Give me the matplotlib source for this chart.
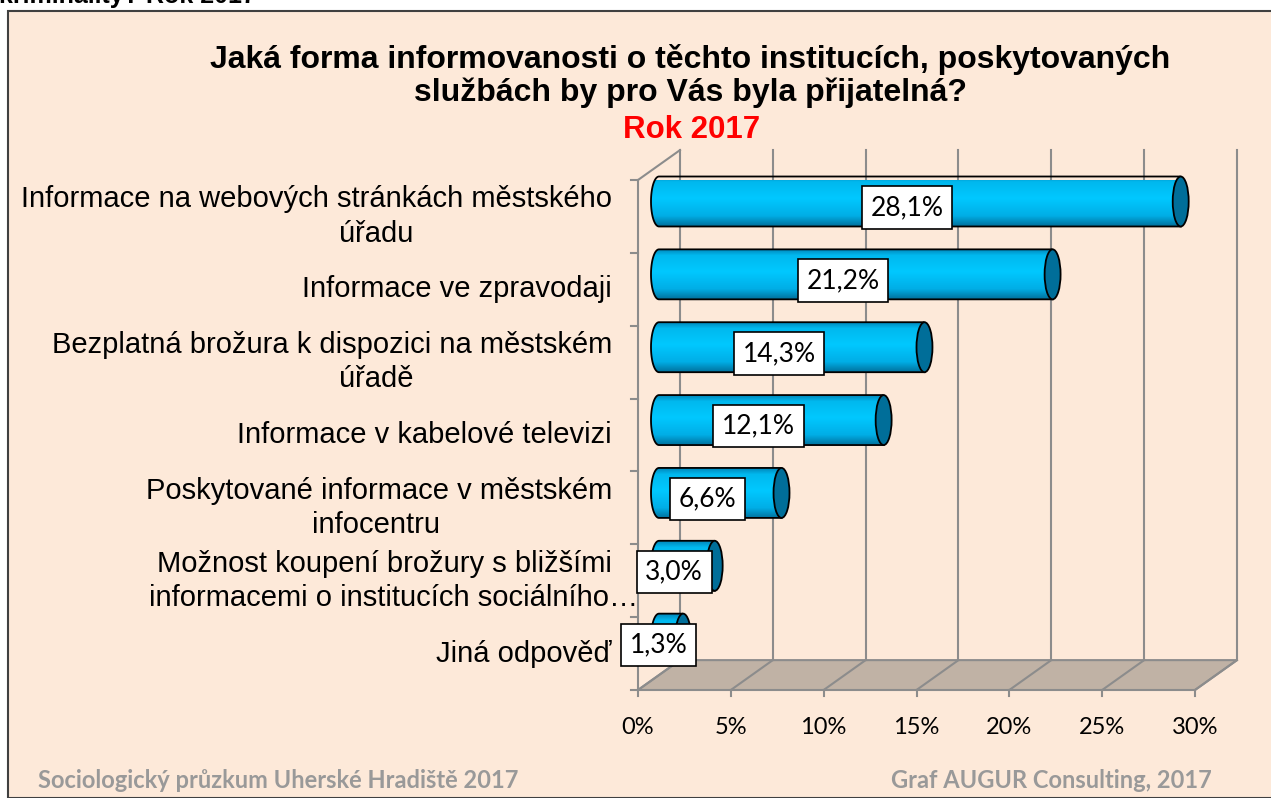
import matplotlib.pyplot as plt
import numpy as np
from matplotlib.patches import Rectangle, Ellipse, PathPatch, Polygon
from matplotlib.path import Path
from matplotlib.colors import LinearSegmentedColormap

# data (top to bottom)
categories = [
    "Informace na webových stránkách městského\núřadu",
    "Informace ve zpravodaji",
    "Bezplatná brožura k dispozici na městském\núřadě",
    "Informace v kabelové televizi",
    "Poskytované informace v městském\ninfocentru",
    "Možnost koupení brožury s bližšími\ninformacemi o institucích sociálního…",
    "Jiná odpověď",
]
values = [28.1, 21.2, 14.3, 12.1, 6.6, 3.0, 1.3]
x_ticks = [0, 5, 10, 15, 20, 25, 30]

title = "Jaká forma informovanosti o těchto institucích, poskytovaných\nslužbách by pro Vás byla přijatelná?"
subtitle = "Rok 2017"

BG = "#FDE9D9"
GRID = "#8C8C8C"
FLOOR = "#C0B2A5"
CAP = "#006E99"

W, H = 1271, 798
fig = plt.figure(figsize=(W / 100, H / 100), dpi=100)
fig.patch.set_facecolor("white")

# chart frame
fig.patches.append(Rectangle((8 / W, 0), 1.2, 1 - 11 / H, transform=fig.transFigure,
                             fc=BG, ec="#404040", lw=1.5, zorder=-5))

# cut-off text of the previous heading
fig.text(-0.001, 1 - 3 / H, "kriminality? Rok 2017", fontsize=18, fontweight="bold",
         family="Liberation Sans", va="baseline", ha="left")

ax = fig.add_axes([638 / W, 1 - 690 / H, 557 / W, 510 / H])
ax.set_zorder(2)
ax.set_xlim(0, 30)
ax.set_ylim(0, 7)
ax.axis("off")
ax.patch.set_alpha(0)

n = len(categories)
dx, dy = 2.26, 0.41  # depth of the 3D box in data units

# floor
ax.add_patch(Polygon([(0, 0), (30, 0), (30 + dx, dy), (dx, dy)], closed=True,
                     fc=FLOOR, ec=GRID, lw=1.5, clip_on=False, zorder=1))
for t in x_ticks:
    ax.plot([t, t + dx], [0, dy], color=GRID, lw=1.5, clip_on=False, zorder=1)
    ax.plot([t + dx, t + dx], [dy, n + dy], color=GRID, lw=1.5, clip_on=False, zorder=1)
    ax.plot([t, t], [0, -0.08], color=GRID, lw=1.5, clip_on=False, zorder=1)
    ax.annotate(f"{t}%", (t, 0), xytext=(0, -37), textcoords="offset pixels",
                ha="center", va="center", fontsize=17, family="Lato")

# left wall
ax.plot([0, 0], [0, n], color=GRID, lw=1.5, clip_on=False, zorder=1)
ax.plot([0, dx], [n, n + dy], color=GRID, lw=1.5, clip_on=False, zorder=1)
for k in range(n + 1):
    ax.plot([-0.4, 0], [k, k], color=GRID, lw=1.5, clip_on=False, zorder=1)

# cylinder gradient
cmap = LinearSegmentedColormap.from_list("cyl", [
    (0.0, "#0088BB"), (0.12, "#00B8EE"), (0.45, "#00C8FF"),
    (0.8, "#00AEE6"), (1.0, "#00739F")])
grad = np.linspace(0, 1, 100).reshape(-1, 1)

r = 0.343   # cylinder radius (y units)
a = 0.43    # half width of end ellipse (x units)
tt = np.linspace(-np.pi / 2, np.pi / 2, 40)

# where the wrapped second line of a label is centred (axes fraction)
line2_x = [-0.47, None, -0.47, None, -0.47, -0.438, None]

tr = ax.get_yaxis_transform()
for k, (cat, v) in enumerate(zip(categories, values)):
    yc_cat = n - (k + 0.5)
    yc = yc_cat + dy / 2
    x0 = dx / 2
    x1 = v + dx / 2
    left = np.column_stack([x0 - a * np.cos(tt), yc + r * np.sin(tt)])  # bottom -> top
    verts = np.vstack([[[x1, yc + r]], [[x1, yc - r]], left, [[x1, yc + r]]])
    body = PathPatch(Path(verts), fc="none", ec="black", lw=1.3, zorder=3, clip_on=False)
    ax.add_patch(body)
    im = ax.imshow(grad, cmap=cmap, aspect="auto", extent=[x0 - a, x1, yc - r, yc + r],
                   origin="upper", zorder=2)
    im.set_clip_path(body)
    ax.add_patch(Ellipse((x1, yc), 2 * a, 2 * r, fc=CAP, ec="black", lw=1.3,
                         zorder=4, clip_on=False))

    # value label
    ax.text(v * 0.5 + 0.45, yc_cat + 0.12, f"{v:.1f}%".replace(".", ","),
            ha="center", va="center", fontsize=19, family="Lato", zorder=6,
            bbox=dict(boxstyle="square,pad=0.33", fc="white", ec="black", lw=1.2))

    # category label
    lines = cat.split("\n")
    if len(lines) == 1:
        ax.text(-0.047, yc_cat, lines[0], transform=tr, ha="right", va="center",
                fontsize=21, family="Liberation Sans")
    else:
        ax.text(-0.047, yc_cat + 0.235, lines[0], transform=tr, ha="right", va="center",
                fontsize=21, family="Liberation Sans")
        ax.text(line2_x[k], yc_cat - 0.235, lines[1], transform=tr, ha="center",
                va="center", fontsize=21, family="Liberation Sans")

# titles
fig.text(690 / W, 1 - 76 / H, title, ha="center", va="center", fontsize=23,
         fontweight="bold", family="Liberation Sans", linespacing=1.1)
fig.text(692 / W, 1 - 130 / H, subtitle, ha="center", va="center", fontsize=22.5,
         fontweight="bold", family="Liberation Sans", color="#FF0000")

# footer
fig.text(38 / W, 1 - 781 / H, "Sociologický průzkum Uherské Hradiště 2017", ha="left",
         va="center", fontsize=17, fontweight="bold", family="Lato", color="#999999")
fig.text(1212 / W, 1 - 781 / H, "Graf AUGUR Consulting, 2017", ha="right",
         va="center", fontsize=17, fontweight="bold", family="Lato", color="#999999")

fig.savefig("out.png", dpi=100, facecolor=fig.get_facecolor())
